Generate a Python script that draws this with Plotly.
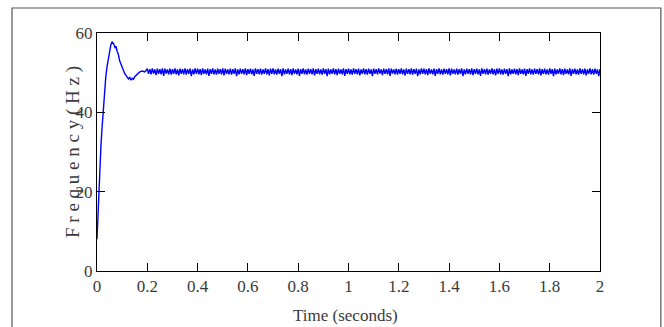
import plotly.graph_objects as go

# Transient part (time in seconds, frequency in Hz)
t_transient = [0.0, 0.003, 0.006, 0.009, 0.012, 0.016, 0.020, 0.024, 0.030, 0.035,
               0.040, 0.045, 0.050, 0.055, 0.060, 0.064, 0.068, 0.072, 0.076, 0.080,
               0.085, 0.090, 0.095, 0.100, 0.105, 0.110, 0.115, 0.120, 0.125, 0.130,
               0.135, 0.140, 0.145, 0.150, 0.160, 0.170, 0.180, 0.190]
f_transient = [8.0, 13.0, 15.0, 22.0, 29.0, 32.0, 36.0, 40.0, 45.0, 49.0,
               51.5, 53.5, 55.5, 57.0, 57.8, 57.4, 57.0, 56.2, 56.6, 55.4,
               54.6, 53.0, 52.2, 51.0, 50.6, 49.8, 49.4, 48.9, 48.4, 48.9,
               48.1, 48.6, 48.3, 49.0, 49.6, 50.2, 50.4, 50.2]

# Steady-state ripple, sampled every 0.005 s from 0.2 s to 2.0 s
t_start = 0.2
t_step = 0.005
f_steady = [
    51.0, 49.7, 50.9, 49.6, 51.1, 49.8, 50.8, 49.4, 51.0, 49.7, 50.9, 49.6, 51.1, 49.2, 51.0, 49.8, 50.8, 49.6, 51.0, 49.5,
    50.9, 49.7, 51.1, 49.6, 50.8, 49.3, 51.0, 49.7, 50.9, 49.6, 51.1, 49.5, 50.9, 49.7, 51.0, 49.1, 50.8, 49.6, 51.1, 49.7,
    51.0, 49.6, 50.9, 49.4, 51.1, 49.7, 50.8, 49.6, 51.0, 49.2, 50.9, 49.7, 51.1, 49.6, 50.8, 49.5, 51.0, 49.7, 50.9, 49.6,
    51.1, 49.3, 51.0, 49.7, 50.8, 49.6, 51.0, 49.5, 50.9, 49.7, 51.1, 49.1, 50.8, 49.6, 51.0, 49.7, 50.9, 49.6, 51.1, 49.4,
    50.9, 49.7, 51.0, 49.6, 50.8, 49.2, 51.1, 49.7, 50.9, 49.6, 51.0, 49.5, 50.8, 49.7, 51.1, 49.6, 50.9, 49.3, 51.0, 49.7,
    51.1, 49.6, 50.8, 49.5, 51.0, 49.7, 50.9, 49.1, 51.1, 49.6, 50.8, 49.7, 51.0, 49.6, 50.9, 49.4, 51.1, 49.7, 50.8, 49.6,
    51.0, 49.2, 50.9, 49.7, 51.1, 49.6, 50.8, 49.5, 51.0, 49.7, 50.9, 49.6, 51.1, 49.3, 50.9, 49.7, 51.0, 49.6, 50.8, 49.5,
    51.1, 49.7, 50.9, 49.1, 51.0, 49.6, 50.8, 49.7, 51.1, 49.6, 50.9, 49.4, 51.0, 49.7, 50.8, 49.6, 51.1, 49.2, 50.9, 49.7,
    51.0, 49.6, 50.8, 49.5, 51.1, 49.7, 50.9, 49.6, 51.0, 49.3, 50.8, 49.7, 51.1, 49.6, 50.9, 49.5, 51.0, 49.7, 50.8, 49.1,
    51.0, 49.7, 50.9, 49.6, 51.1, 49.8, 50.8, 49.4, 51.0, 49.7, 50.9, 49.6, 51.1, 49.2, 51.0, 49.8, 50.8, 49.6, 51.0, 49.5,
    50.9, 49.7, 51.1, 49.6, 50.8, 49.3, 51.0, 49.7, 50.9, 49.6, 51.1, 49.5, 50.9, 49.7, 51.0, 49.1, 50.8, 49.6, 51.1, 49.7,
    51.0, 49.6, 50.9, 49.4, 51.1, 49.7, 50.8, 49.6, 51.0, 49.2, 50.9, 49.7, 51.1, 49.6, 50.8, 49.5, 51.0, 49.7, 50.9, 49.6,
    51.1, 49.3, 51.0, 49.7, 50.8, 49.6, 51.0, 49.5, 50.9, 49.7, 51.1, 49.1, 50.8, 49.6, 51.0, 49.7, 50.9, 49.6, 51.1, 49.4,
    50.9, 49.7, 51.0, 49.6, 50.8, 49.2, 51.1, 49.7, 50.9, 49.6, 51.0, 49.5, 50.8, 49.7, 51.1, 49.6, 50.9, 49.3, 51.0, 49.7,
    51.1, 49.6, 50.8, 49.5, 51.0, 49.7, 50.9, 49.1, 51.1, 49.6, 50.8, 49.7, 51.0, 49.6, 50.9, 49.4, 51.1, 49.7, 50.8, 49.6,
    51.0, 49.2, 50.9, 49.7, 51.1, 49.6, 50.8, 49.5, 51.0, 49.7, 50.9, 49.6, 51.1, 49.3, 50.9, 49.7, 51.0, 49.6, 50.8, 49.5,
    51.1, 49.7, 50.9, 49.1, 51.0, 49.6, 50.8, 49.7, 51.1, 49.6, 50.9, 49.4, 51.0, 49.7, 50.8, 49.6, 51.1, 49.2, 50.9, 49.7,
    51.0, 49.6, 50.8, 49.5, 51.1, 49.7, 50.9, 49.6, 51.0, 49.3, 50.8, 49.7, 51.1, 49.6, 50.9, 49.5, 51.0, 49.7, 50.8, 49.1,
    50.9,
]
t_steady = [round(t_start + i * t_step, 4) for i in range(len(f_steady))]

time = t_transient + t_steady
freq = f_transient + f_steady

x_ticks = [0, 0.2, 0.4, 0.6, 0.8, 1, 1.2, 1.4, 1.6, 1.8, 2]
x_tick_labels = ["0", "0.2", "0.4", "0.6", "0.8", "1", "1.2", "1.4", "1.6", "1.8", "2"]
y_ticks = [0, 20, 40, 60]
y_tick_labels = ["0", "20", "40", "60"]
x_title = "Time (seconds)"
y_title = "F r e q u e n c y ( H z )"

font_family = "Liberation Serif, Times New Roman, serif"
text_color = "#3a3a3a"

fig = go.Figure()
fig.add_trace(go.Scatter(
    x=time, y=freq, mode="lines",
    line=dict(color="#0000ff", width=1.4),
    showlegend=False,
))

axis_common = dict(
    showline=True, linecolor="#000000", linewidth=1, mirror="ticks",
    ticks="inside", ticklen=8, tickcolor="#000000", tickwidth=1,
    showgrid=False, zeroline=False, automargin=False,
    tickfont=dict(family=font_family, size=17, color=text_color),
)

fig.update_layout(
    width=664, height=327,
    margin=dict(l=97, r=64, t=33, b=56, autoexpand=False),
    paper_bgcolor="white", plot_bgcolor="white",
    font=dict(family=font_family, color=text_color),
    xaxis=dict(range=[0, 2], tickvals=x_ticks, ticktext=x_tick_labels, **axis_common),
    yaxis=dict(range=[0, 60], tickvals=y_ticks, ticktext=y_tick_labels,
               ticklabelstandoff=0, **axis_common),
    annotations=[
        dict(text=x_title, xref="paper", yref="paper", x=0.495, y=-0.185,
             xanchor="center", yanchor="middle", showarrow=False,
             font=dict(family=font_family, size=17, color=text_color)),
        dict(text=y_title, xref="paper", yref="paper", x=-0.0477, y=0.5,
             xanchor="center", yanchor="middle", textangle=-90, showarrow=False,
             font=dict(family=font_family, size=19, color=text_color)),
    ],
    shapes=[dict(
        type="rect", xref="paper", yref="paper",
        x0=-0.169, x1=1.121, y0=-0.3, y1=1.105,
        line=dict(color="#555555", width=1.2), fillcolor="rgba(0,0,0,0)",
        layer="below",
    )],
)

fig.write_html(
    "out.html",
    config={"displayModeBar": False},
    post_script="document.body.style.margin='0';document.body.style.overflow='hidden';",
)
